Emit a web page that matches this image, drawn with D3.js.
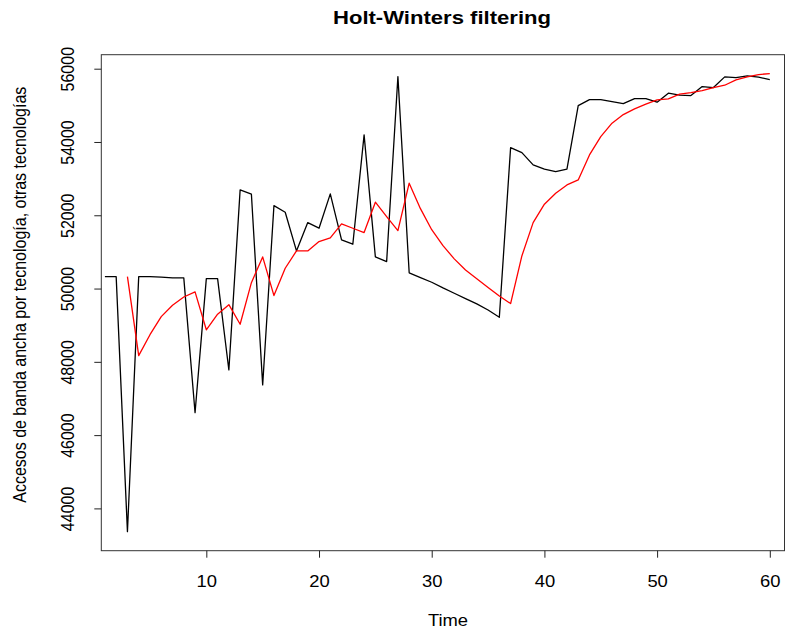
<!DOCTYPE html>
<html>
<head>
<meta charset="utf-8">
<script src="https://cdn.jsdelivr.net/npm/d3@7"></script>
<style>
  html, body { margin: 0; padding: 0; background: #fff; }
  svg { display: block; }
  text { font-family: "Liberation Sans", Arial, sans-serif; fill: #000; }
</style>
</head>
<body>
<svg id="chart" width="785" height="632"></svg>
<script>
// Observed series (time 1..60)
const observed = [
  50325, 50325, 43364, 50325, 50325, 50310, 50290, 50290, 46612, 50270,
  50270, 47778, 52692, 52575, 47369, 52263, 52083, 51027, 51800, 51647,
  52583, 51327, 51210, 54193, 50863, 50735, 55785, 50430, 50298, 50172,
  50017, 49872, 49725, 49580, 49416, 49215, 53847, 53711, 53375, 53257,
  53192, 53257, 54994, 55157, 55157, 55103, 55048, 55185, 55185, 55086,
  55332, 55277, 55266, 55512, 55485, 55777, 55758, 55804, 55768, 55703
];
// Holt-Winters fitted values (time 3..60)
const fittedStart = 3;
const fitted = [
  50325, 48169, 48740, 49233, 49545, 49770, 49910, 48875, 49300, 49561,
  49026, 50161, 50863, 49807, 50554, 51027, 51027, 51282, 51382, 51764,
  51646, 51527, 52356, 51963, 51582, 52875, 52180, 51605, 51170, 50810,
  50508, 50270, 50030, 49795, 49590, 50890, 51800, 52302, 52602, 52828,
  52965, 53647, 54147, 54513, 54748, 54903, 55031, 55150, 55175, 55304,
  55348, 55403, 55485, 55549, 55695, 55777, 55840, 55867
];
const xTicks = [10, 20, 30, 40, 50, 60];
const yTicks = [44000, 46000, 48000, 50000, 52000, 54000, 56000];

const titleText = "Holt-Winters filtering";
const xLabel = "Time";
const yLabel = "Accesos de banda ancha por tecnología, otras tecnologías";

const svg = d3.select("#chart");
const box = { left: 101.3, top: 54.7, right: 784.5, bottom: 550.7 };
const stretch = 1.15;   // text is drawn slightly wide

const x = d3.scaleLinear().domain([1, 60]).range([104.9, 769.8]);
const y = d3.scaleLinear().domain([44000, 56000]).range([508.4, 68.7]);

const obsData = observed.map((v, i) => [i + 1, v]);
const fitData = fitted.map((v, i) => [i + fittedStart, v]);

const line = d3.line().x(d => x(d[0])).y(d => y(d[1]));

// Series
svg.append("path").datum(obsData)
  .attr("d", line).attr("fill", "none")
  .attr("stroke", "#000").attr("stroke-width", 1.3)
  .attr("stroke-linejoin", "round");
svg.append("path").datum(fitData)
  .attr("d", line).attr("fill", "none")
  .attr("stroke", "#ff0000").attr("stroke-width", 1.3)
  .attr("stroke-linejoin", "round");

// Plot frame
svg.append("rect")
  .attr("x", box.left).attr("y", box.top)
  .attr("width", box.right - box.left).attr("height", box.bottom - box.top)
  .attr("fill", "none").attr("stroke", "#333").attr("stroke-width", 1);

// Bottom axis
const xAxis = d3.axisBottom(x).tickValues(xTicks).tickSize(7).tickFormat(d3.format("d"));
const gx = svg.append("g").attr("transform", `translate(0,${box.bottom})`).call(xAxis);
gx.select(".domain").remove();
gx.selectAll("line").attr("stroke", "#222");
gx.selectAll("text")
  .attr("font-size", 16)
  .attr("font-family", "Liberation Sans, Arial, sans-serif")
  .attr("y", null).attr("dy", null)
  .attr("transform", `translate(0,36.5) scale(${stretch},1)`);

// Left axis, labels rotated parallel to the axis
const yAxis = d3.axisLeft(y).tickValues(yTicks).tickSize(7).tickFormat(d3.format("d"));
const gy = svg.append("g").attr("transform", `translate(${box.left},0)`).call(yAxis);
gy.select(".domain").remove();
gy.selectAll("line").attr("stroke", "#222");
gy.selectAll("text")
  .attr("font-size", 16)
  .attr("font-family", "Liberation Sans, Arial, sans-serif")
  .attr("x", null).attr("dy", null)
  .attr("text-anchor", "middle")
  .attr("transform", `translate(-27,0) scale(${stretch},1) rotate(-90)`);

// Titles
svg.append("text")
  .attr("transform", `translate(442,24) scale(${stretch},1)`)
  .attr("text-anchor", "middle").attr("font-size", 19.2).attr("font-weight", "bold")
  .text(titleText);
svg.append("text")
  .attr("transform", `translate(448,625.5) scale(${stretch},1)`)
  .attr("text-anchor", "middle").attr("font-size", 16)
  .text(xLabel);
svg.append("text")
  .attr("transform", `translate(26,${(box.top + box.bottom) / 2 - 8}) scale(${stretch},1) rotate(-90)`)
  .attr("text-anchor", "middle").attr("font-size", 16)
  .text(yLabel);
</script>
</body>
</html>
